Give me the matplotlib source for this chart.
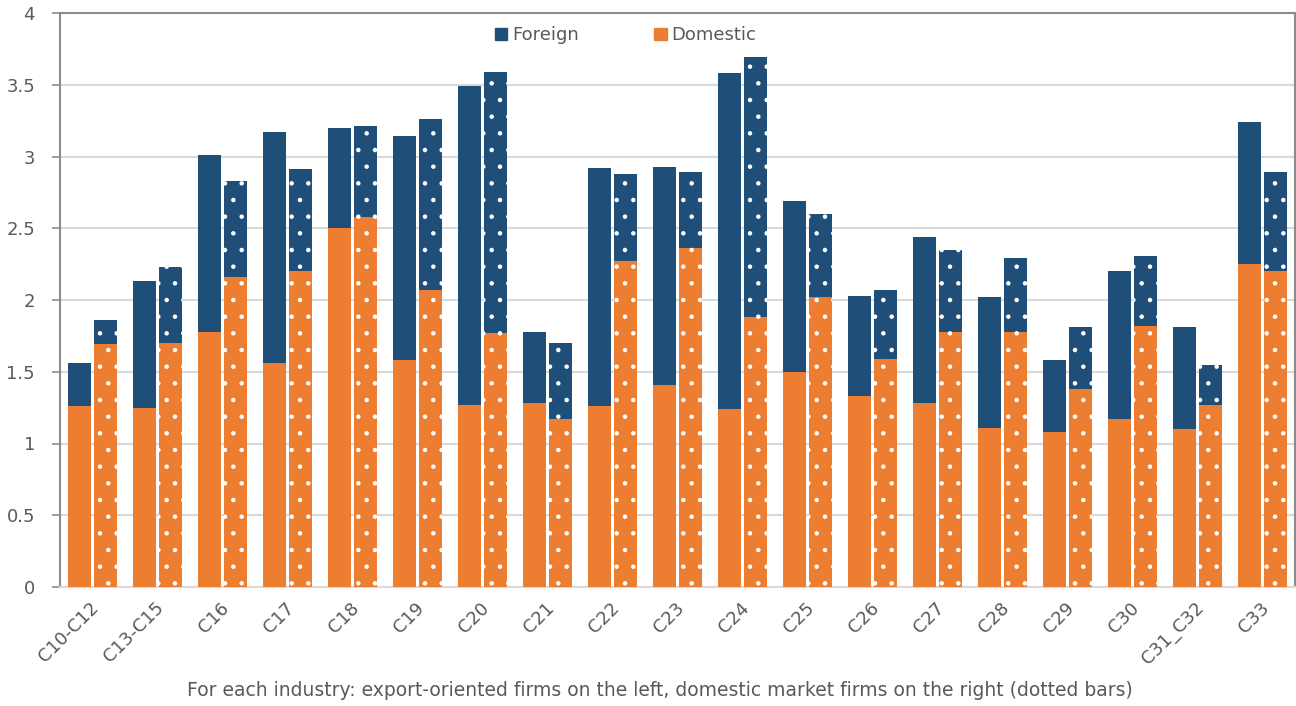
import numpy as np
import matplotlib
matplotlib.use("Agg")
import matplotlib.pyplot as plt
from matplotlib.patches import Patch

industries = ["C10-C12", "C13-C15", "C16", "C17", "C18", "C19", "C20", "C21", "C22",
              "C23", "C24", "C25", "C26", "C27", "C28", "C29", "C30", "C31_C32", "C33"]

# export-oriented firms (left bars)
exp_domestic = [1.26, 1.25, 1.78, 1.56, 2.50, 1.58, 1.27, 1.28, 1.26,
                1.41, 1.24, 1.50, 1.33, 1.28, 1.11, 1.08, 1.17, 1.10, 2.25]
exp_foreign = [0.30, 0.88, 1.23, 1.61, 0.70, 1.56, 2.22, 0.50, 1.66,
               1.52, 2.34, 1.19, 0.70, 1.16, 0.91, 0.50, 1.03, 0.71, 0.99]

# domestic market firms (right bars, dotted)
dom_domestic = [1.69, 1.70, 2.16, 2.20, 2.58, 2.07, 1.77, 1.17, 2.27,
                2.36, 1.88, 2.02, 1.59, 1.78, 1.78, 1.38, 1.82, 1.27, 2.20]
dom_foreign = [0.17, 0.53, 0.67, 0.71, 0.63, 1.19, 1.82, 0.53, 0.61,
               0.53, 1.81, 0.58, 0.48, 0.57, 0.51, 0.43, 0.49, 0.28, 0.69]

blue = "#1F4E79"
orange = "#ED7D31"
grey_txt = "#595959"

plt.rcParams["font.family"] = ["DejaVu Sans"]
plt.rcParams["hatch.linewidth"] = 0.8

fig = plt.figure(figsize=(12.96, 7.06), dpi=100)
ax = fig.add_axes([60 / 1296, 1 - 587 / 706, 1235 / 1296, 574 / 706])

x = np.arange(len(industries))
w = 0.34
off = 0.2

ax.bar(x - off, exp_domestic, w, color=orange, zorder=3)
ax.bar(x - off, exp_foreign, w, bottom=exp_domestic, color=blue, zorder=3)
ax.bar(x + off, dom_domestic, w, color=orange, edgecolor="white", linewidth=0,
       hatch=".", zorder=3)
ax.bar(x + off, dom_foreign, w, bottom=dom_domestic, color=blue, edgecolor="white",
       linewidth=0, hatch=".", zorder=3)

ax.set_xlim(-0.5, len(industries) - 0.5)
ax.set_ylim(0, 4)
ax.set_yticks(np.arange(0, 4.01, 0.5))
ax.set_yticklabels(["0", "0.5", "1", "1.5", "2", "2.5", "3", "3.5", "4"])
ax.yaxis.grid(True, color="#D9D9D9", linewidth=1.5, zorder=0)
ax.set_axisbelow(True)

for s in ["left", "top", "right"]:
    ax.spines[s].set_color("#8C8C8C")
    ax.spines[s].set_linewidth(1.5)
ax.spines["bottom"].set_color("#D9D9D9")
ax.spines["bottom"].set_linewidth(1.5)

ax.tick_params(axis="y", length=6, width=1.2, color="#8C8C8C", pad=12,
               labelsize=13, labelcolor=grey_txt)
ax.tick_params(axis="x", length=0, pad=13, labelsize=13, labelcolor=grey_txt)
ax.set_xticks(x + 0.06)
ax.set_xticklabels(industries, rotation=45, ha="right", va="center",
                   rotation_mode="anchor")

handles = [Patch(color=blue, label="Foreign"), Patch(color=orange, label="Domestic")]
ax.legend(handles=handles, loc="upper center", bbox_to_anchor=(0.458, 1.005), ncol=2,
          frameon=False, fontsize=13, labelcolor=grey_txt, handlelength=0.7,
          handleheight=0.7, handletextpad=0.25, columnspacing=4.2)

fig.text(660 / 1296, 1 - 690 / 706,
         "For each industry: export-oriented firms on the left, domestic market firms on the right (dotted bars)",
         ha="center", va="center", fontsize=13.5, color=grey_txt)

fig.savefig("out.png", dpi=100)
